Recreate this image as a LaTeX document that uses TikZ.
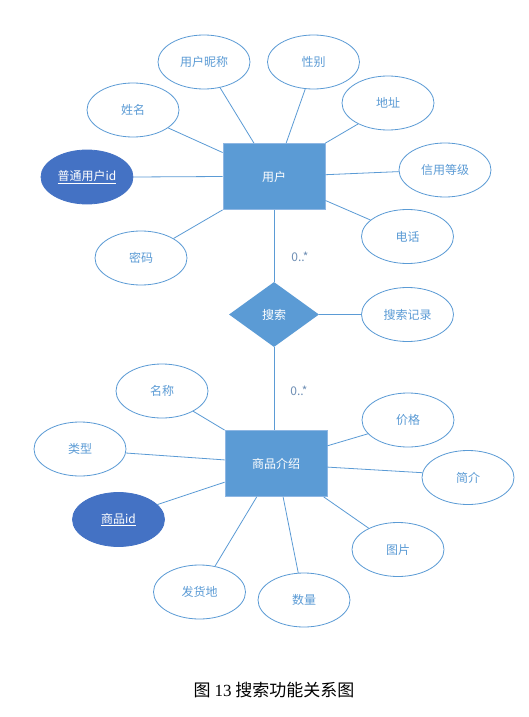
\documentclass[tikz,border=0pt]{standalone}
\usepackage{fontspec}
\usetikzlibrary{shapes.geometric}
\newfontfamily\cjk{Noto Sans CJK SC}
\newfontfamily\capserif{Liberation Serif}
\definecolor{erblue}{HTML}{5B9BD5}
\definecolor{keyblue}{HTML}{4472C4}
\definecolor{rimblue}{HTML}{8FB7E3}
\definecolor{cardgray}{HTML}{6F8FB5}
\tikzset{
	attr/.style={ellipse, draw=erblue, line width=.8pt, fill=white, text=erblue, minimum width=92pt, minimum height=54pt, inner sep=0pt, font=\cjk\fontsize{12}{14}\selectfont},
	keyattr/.style={attr, fill=keyblue, draw=keyblue, text=white},
	entity/.style={rectangle, fill=erblue, draw=rimblue, line width=.8pt, text=white, minimum width=102pt, minimum height=66pt, font=\cjk\fontsize{12}{14}\selectfont},
	relation/.style={diamond, fill=erblue, text=white, minimum width=90pt, minimum height=65pt, inner sep=0pt, font=\cjk\fontsize{12}{14}\selectfont},
	card/.style={text=cardgray, font=\cjk\fontsize{12}{14}\selectfont},
	every edge/.style={draw=erblue, line width=.8pt}
}
\begin{document}
\begin{tikzpicture}[x=1pt, y=-1pt]
				\useasboundingbox[fill=white] (0, 0) rectangle (528, 717);
				% user side
				\node[entity] (user) at (274, 176.5) {用户};
				\node[keyattr] (uid) at (87, 177) {\underline{普通用户id}};
				\node[attr] (nick) at (204, 62) {用户昵称};
				\node[attr] (sex) at (313.5, 62) {性别};
				\node[attr] (name) at (133, 110) {姓名};
				\node[attr] (addr) at (388, 103) {地址};
				\node[attr] (credit) at (445, 170) {信用等级};
				\node[attr] (tel) at (407.5, 236.5) {电话};
				\node[attr] (pwd) at (141, 258) {密码};
				\path (user.west) edge (uid.east);
				\path (user.155) edge (name.-27);
				\path (user.121) edge (nick.-58);
				\path (user.70) edge (sex.-107);
				\path (user.north east) edge (addr.-145);
				\path (user.2) edge (credit.182);
				\path (user.-25) edge (tel.156);
				\path (user.south west) edge (pwd.31);
				% relation
				\node[relation] (search) at (274, 314.5) {搜索};
				\node[attr] (log) at (407.5, 314.5) {搜索记录};
				\node[card] (c1) at (300, 257) {0..*};
				\node[card] (c2) at (299, 391) {0..*};
				\path (user.south) edge (search.north);
				\path (search.east) edge (log.west);
				% goods side
				\node[entity] (goods) at (276, 463.5) {商品介绍};
				\node[keyattr] (gid) at (118.5, 519.5) {\underline{商品id}};
				\node[attr] (gname) at (162, 391) {名称};
				\node[attr] (kind) at (80, 449) {类型};
				\node[attr] (price) at (408, 420) {价格};
				\node[attr] (intro) at (468, 477.5) {简介};
				\node[attr] (pic) at (398, 549.5) {图片};
				\node[attr] (num) at (304, 600) {数量};
				\node[attr] (place) at (199.5, 592) {发货地};
				\path (search.south) edge (search.south |- goods.north);
				\path (goods.north west) edge (gname.-33);
				\path (goods.176) edge (kind.-5);
				\path (goods.-160) edge (gid.21);
				\path (goods.19) edge (price.-161);
				\path (goods.-4) edge (intro.174);
				\path (goods.-35) edge (pic.144);
				\path (goods.-78) edge (num.102);
				\path (goods.-120) edge (place.59);
				% caption
				\node[font=\cjk\fontsize{17}{20}\selectfont] (cap) at (274, 690) {图 {\capserif 13} 搜索功能关系图};
			\end{tikzpicture}
\end{document}
